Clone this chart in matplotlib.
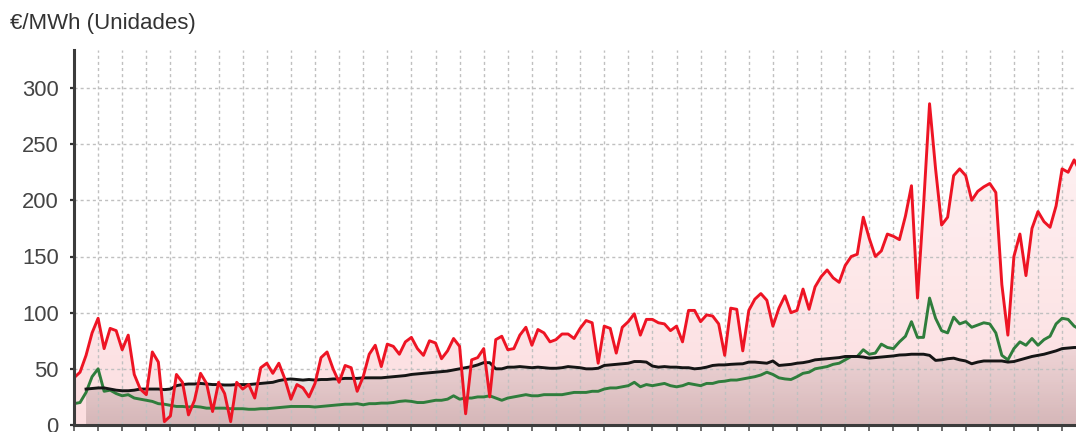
import numpy as np
import matplotlib
matplotlib.use("Agg")
import matplotlib.pyplot as plt
from matplotlib.path import Path
from matplotlib.patches import PathPatch

# ---------------- data (€/MWh) ----------------
red = [42, 47, 62, 82, 95, 68, 86, 84, 67, 80, 45, 32, 27, 65, 56, 3, 8, 45, 38, 9,
       22, 46, 37, 12, 38, 28, 3, 38, 32, 36, 24, 51, 55, 46, 55, 41, 23, 36, 33, 25,
       37, 60, 65, 50, 38, 53, 51, 30, 43, 63, 71, 52, 72, 70, 63, 74, 78, 68, 62, 75,
       73, 59, 66, 77, 70, 10, 58, 60, 68, 25, 76, 79, 67, 68, 80, 87, 71, 85, 82, 74,
       76, 81, 81, 77, 86, 93, 91, 55, 88, 86, 64, 87, 92, 99, 80, 94, 94, 91, 90, 84,
       88, 74, 102, 102, 92, 98, 97, 90, 62, 104, 103, 66, 102, 112, 117, 111, 88, 104, 115, 100,
       102, 121, 103, 123, 132, 138, 131, 127, 142, 150, 152, 185, 166, 150, 155, 170, 168, 165, 186, 213,
       113, 195, 286, 228, 178, 185, 222, 228, 222, 200, 208, 212, 215, 207, 125, 80, 150, 170, 133, 175,
       190, 181, 176, 195, 228, 225, 236, 225]

green = [19, 20, 29, 43, 50, 30, 31, 28, 26, 27, 24, 23, 22, 21, 19, 18.5, 17.5, 16.5, 16.5, 16,
         16.5, 16, 15, 15, 15, 15, 14.5, 14.5, 14.5, 14, 14, 14.5, 14.5, 15, 15.5, 16, 16.5, 16.5, 16.5, 16.5,
         16, 16.5, 17, 17.5, 18, 18.5, 18.5, 19, 18, 19, 19, 19.5, 19.5, 20, 21, 21.5, 21, 20, 20, 21,
         22, 22, 23, 26, 23, 24, 24, 25, 25, 26, 24, 22, 24, 25, 26, 27, 26, 26, 27, 27,
         27, 27, 28, 29, 29, 29, 30, 30, 32, 33, 33, 34, 35, 38, 34, 36, 35, 36, 37, 35,
         34, 35, 37, 36, 35, 37, 37, 38.5, 39, 40, 40, 41, 42, 43, 44.5, 47, 45, 42, 41, 40.5,
         43, 46, 47, 50, 51, 52, 54, 55, 58, 61, 61, 67, 63, 64, 72, 69, 68, 74, 79, 92,
         78, 78, 113, 95, 84, 82, 96, 90, 92, 87, 89, 91, 90, 82, 62, 58, 68, 74, 71, 77,
         71, 76, 79, 90, 95, 94, 88, 85]

black = [np.nan, np.nan, 32, 32.5, 33, 33, 32, 31, 30.5, 30.5, 31, 32, 32, 32, 32, 31.5, 32, 35, 36, 36.5,
         36.5, 37, 36.5, 36, 36, 35.6, 35.6, 36, 36, 36, 36.5, 37, 37.5, 38, 39.5, 40.5, 41, 40.5, 40, 40.5,
         40, 40.5, 40.5, 41, 41, 41.5, 41.5, 41.5, 42, 42, 42, 42, 42.5, 43, 43.5, 44, 45, 45.5, 46, 46.5,
         47, 47.5, 48, 49, 50, 51, 52, 53.5, 55.5, 55.5, 50, 50, 51.5, 51.5, 52, 51.5, 51, 51.5, 51, 50.5,
         50.5, 51, 52, 51.5, 51, 50, 50, 50.5, 53, 53.5, 54, 54.5, 55, 56.5, 56.5, 56, 52.5, 51.5, 52, 51.5,
         51.5, 51, 51, 50, 50.5, 51.5, 53, 53.5, 53.5, 54, 54.3, 54.5, 56, 56, 55.5, 55, 57, 53, 53.5, 54,
         55, 55.5, 56.5, 58, 58.5, 59, 59.5, 60, 61, 61, 61, 60.5, 59.5, 60, 60.5, 61, 61.5, 62.3, 62.5, 63,
         63, 63, 62, 57.5, 58, 59, 59.5, 58, 57, 54.5, 56, 57, 57, 57, 57, 56, 56.5, 58, 59.5, 61,
         62, 63, 64.5, 66, 68, 68.5, 69, 69]

y_ticks = [0, 50, 100, 150, 200, 250, 300]
unit_label = "€/MWh (Unidades)"

# ---------------- figure ----------------
plt.rcParams['font.family'] = ['Liberation Sans', 'DejaVu Sans']
W, H = 1076, 432
fig = plt.figure(figsize=(W / 100, H / 100), dpi=100)

left_px, bottom_px, top_px = 74, 425, 50
step_px = 6.025
n_vis = 167
ax = fig.add_axes([left_px / W, (H - bottom_px) / H,
                   n_vis * step_px / W, (bottom_px - top_px) / H])
ymax = (bottom_px - top_px) / (337 / 300)


def gradient_fill(ax, y, rgb, a_bot, a_top, ytop, z):
    y = np.asarray(y, float)
    x = np.arange(len(y))
    m = ~np.isnan(y)
    xs, ys = x[m], y[m]
    verts = np.vstack([np.column_stack([xs, ys]), [[xs[-1], 0], [xs[0], 0], [xs[0], ys[0]]]])
    path = Path(verts, closed=True)
    n = 256
    arr = np.zeros((n, 1, 4))
    arr[..., :3] = rgb
    arr[:, 0, 3] = np.linspace(a_bot, a_top, n)
    im = ax.imshow(arr, extent=[xs[0], xs[-1], 0, ytop], origin='lower',
                   aspect='auto', zorder=z, interpolation='bilinear')
    patch = PathPatch(path, transform=ax.transData, facecolor='none', edgecolor='none')
    ax.add_patch(patch)
    im.set_clip_path(patch)


gradient_fill(ax, red, (0.93, 0.12, 0.18), 0.15, 0.05, 300, 1)
gradient_fill(ax, black, (0.38, 0.26, 0.26), 0.25, 0.08, 70, 1.1)

ax.plot(np.arange(len(green)), green, color='#2f7d3c', lw=2.1, zorder=3,
        solid_joinstyle='round')
ax.plot(np.arange(len(black)), black, color='#151515', lw=2.1, zorder=4,
        solid_joinstyle='round')
ax.plot(np.arange(len(red)), red, color='#ee1424', lw=2.1, zorder=5,
        solid_joinstyle='round')

ax.set_xlim(0, n_vis)
ax.set_ylim(0, ymax)
ax.set_yticks(y_ticks)
ax.set_xticks(np.arange(0, len(red), 4))
ax.set_xticklabels([])
ax.grid(True, color='#c0c0c0', lw=1.0, linestyle=(0, (2.2, 2.2)))
for gl in ax.get_xgridlines() + ax.get_ygridlines():
    gl.set_zorder(2)

for s in ['top', 'right']:
    ax.spines[s].set_visible(False)
for s in ['left', 'bottom']:
    ax.spines[s].set_color('#3c3c3c')
    ax.spines[s].set_linewidth(2.2)
    ax.spines[s].set_zorder(6)

ax.tick_params(axis='y', length=3, width=1.6, color='#333333', pad=8,
               labelsize=15.8, labelcolor='#444444')
ax.tick_params(axis='x', length=4, width=1.2, color='#555555')
ax.patch.set_alpha(0)

fig.text(10 / W, 1 - 24 / H, unit_label, fontsize=16, color='#333333',
         ha='left', va='center')

fig.savefig('out.png', dpi=100)
